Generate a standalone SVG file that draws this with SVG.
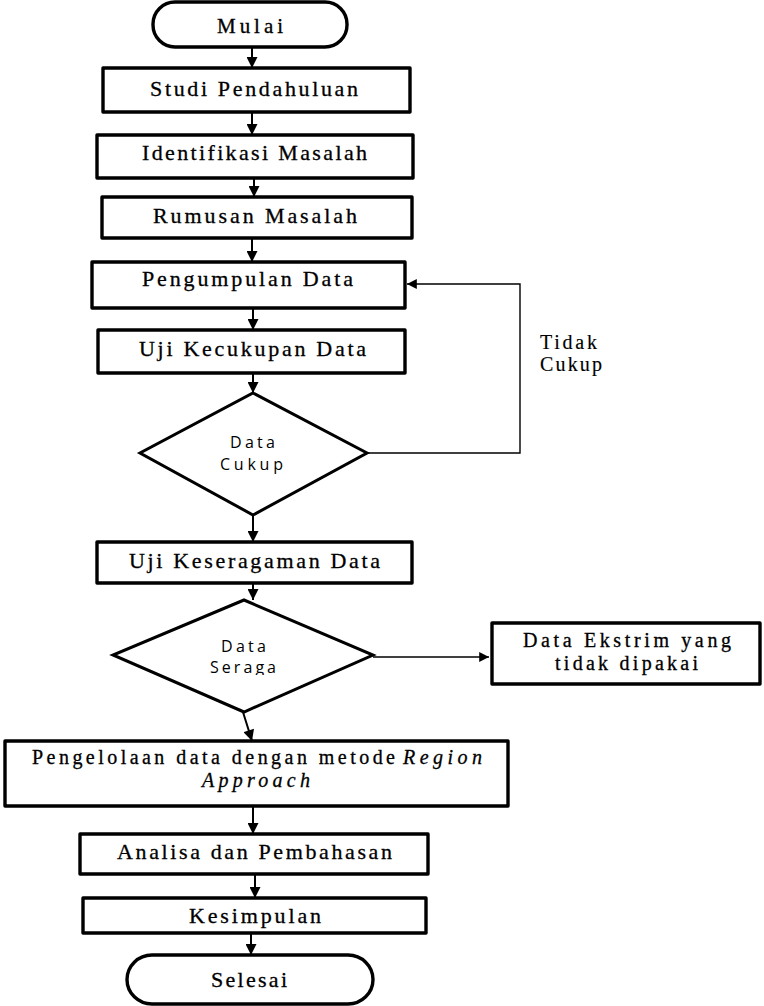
<svg xmlns="http://www.w3.org/2000/svg" width="764" height="1006" viewBox="0 0 764 1006">
<style>
.box{fill:#fff;stroke:#000;stroke-width:3.4;stroke-linejoin:round}
.dia{fill:#fff;stroke:#000;stroke-width:3}
.t{font-family:'Liberation Serif','DejaVu Serif',serif;font-size:22px;fill:#000;stroke:#000;stroke-width:0.3;text-anchor:middle}
.t2{font-size:20px}
.s{font-family:'Open Sans','Noto Sans',sans-serif;font-size:16px;fill:#000;text-anchor:middle}
.c{fill:none;stroke:#000;stroke-width:2}
.thin{fill:none;stroke:#000;stroke-width:1.4}
</style>
<defs>
<marker id="ah" viewBox="0 0 10 10" refX="10" refY="5" markerWidth="6" markerHeight="5.5" orient="auto" markerUnits="strokeWidth">
<path d="M0,0 L10,5 L0,10 z" fill="#000"/>
</marker>
<marker id="ah2" viewBox="0 0 10 10" refX="10" refY="5" markerWidth="9" markerHeight="7" orient="auto" markerUnits="strokeWidth">
<path d="M0,0 L10,5 L0,10 z" fill="#000"/>
</marker>
<clipPath id="clipSer"><rect x="150" y="600" width="200" height="75"/></clipPath>
</defs>
<g id="connectors">
<line class="c" x1="252" y1="47" x2="252" y2="68" marker-end="url(#ah)"/>
<line class="c" x1="252" y1="112" x2="252" y2="135" marker-end="url(#ah)"/>
<line class="c" x1="254" y1="178" x2="254" y2="197" marker-end="url(#ah)"/>
<line class="c" x1="252" y1="238" x2="252" y2="262" marker-end="url(#ah)"/>
<line class="c" x1="253" y1="308" x2="253" y2="330" marker-end="url(#ah)"/>
<line class="c" x1="253" y1="373" x2="253" y2="393" marker-end="url(#ah)"/>
<line class="c" x1="253" y1="515" x2="253" y2="542" marker-end="url(#ah)"/>
<line class="c" x1="253" y1="583" x2="253" y2="600" marker-end="url(#ah)"/>
<line class="c" x1="243" y1="712" x2="252" y2="741" marker-end="url(#ah)"/>
<line class="c" x1="253" y1="806" x2="253" y2="834" marker-end="url(#ah)"/>
<line class="c" x1="255" y1="874" x2="255" y2="898" marker-end="url(#ah)"/>
<line class="c" x1="251" y1="933" x2="251" y2="955" marker-end="url(#ah)"/>
<line class="thin" x1="373" y1="657" x2="489" y2="657" marker-end="url(#ah2)"/>
<polyline class="thin" points="367,453 520,453 520,284 407,284" marker-end="url(#ah2)"/>
</g>
<g id="mulai">
<rect class="box" x="153" y="2" width="194" height="45" rx="22" ry="22"/>
<text class="t" x="250" y="33" style="font-size:21px" textLength="66" lengthAdjust="spacing">Mulai</text>
</g>
<g id="studi">
<rect class="box" x="103" y="68" width="307" height="44"/>
<text class="t" x="254" y="96" textLength="208" lengthAdjust="spacing">Studi Pendahuluan</text>
</g>
<g id="identifikasi">
<rect class="box" x="97" y="135" width="316" height="43"/>
<text class="t" x="254.5" y="160" textLength="225" lengthAdjust="spacing">Identifikasi Masalah</text>
</g>
<g id="rumusan">
<rect class="box" x="102" y="197" width="310" height="41"/>
<text class="t" x="255" y="223" textLength="204" lengthAdjust="spacing">Rumusan Masalah</text>
</g>
<g id="pengumpulan">
<rect class="box" x="92" y="262" width="313" height="46"/>
<text class="t" x="247.5" y="286" textLength="211" lengthAdjust="spacing">Pengumpulan Data</text>
</g>
<g id="ujiKecukupan">
<rect class="box" x="98" y="330" width="307" height="43"/>
<text class="t" x="252.5" y="356" textLength="227" lengthAdjust="spacing">Uji Kecukupan Data</text>
</g>
<g id="dataCukup">
<polygon class="dia" points="253,393 367,453 253,515 140,453"/>
<text class="s" x="252.5" y="448" textLength="45" lengthAdjust="spacing">Data</text>
<text class="s" x="251.5" y="470" textLength="63" lengthAdjust="spacing">Cukup</text>
</g>
<g id="tidakCukup">
<text class="t t2" x="540" y="349" style="text-anchor:start;stroke-width:0.15" textLength="57" lengthAdjust="spacing">Tidak</text>
<text class="t t2" x="540" y="371" style="text-anchor:start;stroke-width:0.15" textLength="62" lengthAdjust="spacing">Cukup</text>
</g>
<g id="ujiKeseragaman">
<rect class="box" x="97" y="542" width="315" height="41"/>
<text class="t" x="254.5" y="568" textLength="251" lengthAdjust="spacing">Uji Keseragaman Data</text>
</g>
<g id="dataSeragam">
<polygon class="dia" points="244,600 373,655 244,712 113,655"/>
<text class="s" x="243.5" y="652" textLength="45" lengthAdjust="spacing">Data</text>
<text class="s" x="243" y="673" clip-path="url(#clipSer)" textLength="66" lengthAdjust="spacing">Seraga</text>
</g>
<g id="dataEkstrim">
<rect class="box" x="492" y="623" width="268" height="61"/>
<text class="t t2" x="627" y="647" textLength="208" lengthAdjust="spacing">Data Ekstrim yang</text>
<text class="t t2" x="626.5" y="670" textLength="143" lengthAdjust="spacing">tidak dipakai</text>
</g>
<g id="pengelolaan">
<rect class="box" x="5" y="741" width="503" height="65"/>
<text class="t t2" x="32" y="764" style="text-anchor:start" textLength="363" lengthAdjust="spacing">Pengelolaan data dengan metode</text>
<text class="t t2" x="403" y="764" style="text-anchor:start;font-style:italic" textLength="79" lengthAdjust="spacing">Region</text>
<text class="t t2" x="256" y="787" style="font-style:italic" textLength="108" lengthAdjust="spacing">Approach</text>
</g>
<g id="analisa">
<rect class="box" x="80" y="834" width="348" height="40"/>
<text class="t" x="254.5" y="859" textLength="275" lengthAdjust="spacing">Analisa dan Pembahasan</text>
</g>
<g id="kesimpulan">
<rect class="box" x="83" y="898" width="343" height="35"/>
<text class="t" x="255" y="923" textLength="132" lengthAdjust="spacing">Kesimpulan</text>
</g>
<g id="selesai">
<rect class="box" x="127" y="955" width="246" height="49" rx="25" ry="25"/>
<text class="t" x="249" y="987" textLength="76" lengthAdjust="spacing">Selesai</text>
</g>
</svg>
